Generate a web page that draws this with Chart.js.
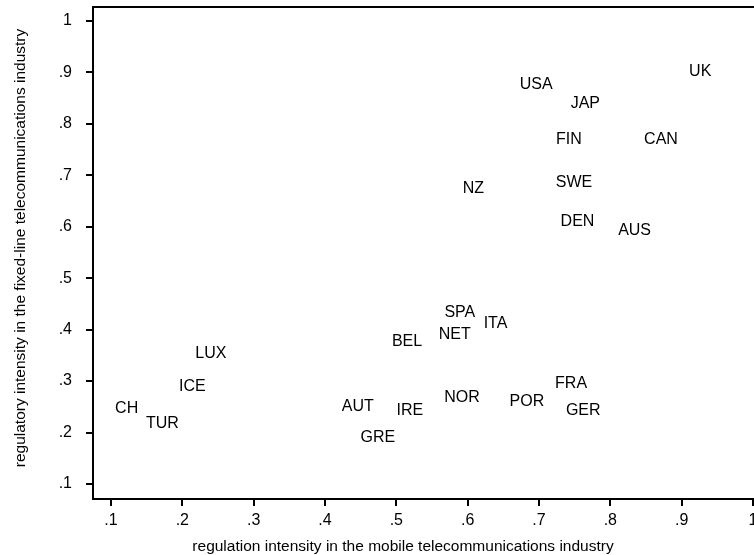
<!DOCTYPE html>
<html>
<head>
<meta charset="utf-8">
<script src="https://cdn.jsdelivr.net/npm/chart.js@4"></script>
<style>
  html, body { margin: 0; padding: 0; background: #fff; }
  #wrap { width: 754px; height: 555px; }
</style>
</head>
<body>
<div id="wrap"><canvas id="chart"></canvas></div>
<script>
// country codes and their regulation scores
const countries = ['UK', 'USA', 'JAP', 'FIN', 'CAN', 'SWE', 'NZ', 'DEN', 'AUS',
  'SPA', 'ITA', 'NET', 'BEL', 'LUX', 'ICE', 'FRA', 'NOR', 'POR', 'CH', 'AUT',
  'IRE', 'GER', 'TUR', 'GRE'];
const mobileReg = [0.926, 0.696, 0.765, 0.742, 0.871, 0.749, 0.608, 0.754, 0.834,
  0.589, 0.639, 0.582, 0.515, 0.240, 0.214, 0.745, 0.592, 0.683, 0.122, 0.446,
  0.519, 0.762, 0.172, 0.474];
const fixedReg = [0.901, 0.877, 0.840, 0.770, 0.770, 0.685, 0.675, 0.611, 0.593,
  0.434, 0.412, 0.391, 0.377, 0.354, 0.290, 0.296, 0.267, 0.261, 0.247, 0.251,
  0.243, 0.243, 0.218, 0.191];

const xTicks = [0.1, 0.2, 0.3, 0.4, 0.5, 0.6, 0.7, 0.8, 0.9, 1];
const yTicks = [0.1, 0.2, 0.3, 0.4, 0.5, 0.6, 0.7, 0.8, 0.9, 1];

const xTitle = 'regulation intensity in the mobile telecommunications industry';
const yTitle = 'regulatory intensity in the fixed-line telecommunications industry';

const FONT = "'Liberation Sans', Arial, sans-serif";

const fmt = v => (v >= 1 ? '1' : v.toFixed(1).replace(/^0/, ''));

// draws the country code at each point instead of a marker
const labelPlugin = {
  id: 'countryLabels',
  afterDatasetsDraw(chart) {
    const ctx = chart.ctx;
    const meta = chart.getDatasetMeta(0);
    ctx.save();
    ctx.font = '16px ' + FONT;
    ctx.fillStyle = '#000';
    ctx.textAlign = 'center';
    ctx.textBaseline = 'middle';
    meta.data.forEach((pt, i) => {
      ctx.fillText(countries[i], pt.x, pt.y);
    });
    ctx.restore();
  }
};

// top edge of the plot box + both axis titles (the original does not centre them on the area)
const extras = {
  id: 'extras',
  afterDraw(chart) {
    const a = chart.chartArea;
    const ctx = chart.ctx;
    ctx.save();
    ctx.strokeStyle = '#000';
    ctx.lineWidth = 2;
    ctx.beginPath();
    ctx.moveTo(a.left, a.top);
    ctx.lineTo(a.right, a.top);
    ctx.stroke();

    ctx.font = '15.5px ' + FONT;
    ctx.fillStyle = '#000';
    ctx.textAlign = 'center';
    ctx.textBaseline = 'middle';
    ctx.fillText(xTitle, 403, chart.height - 8);

    ctx.translate(21, 248);
    ctx.rotate(-Math.PI / 2);
    ctx.fillText(yTitle, 0, 0);
    ctx.restore();
  }
};

new Chart(document.getElementById('chart'), {
  type: 'scatter',
  data: {
    datasets: [{
      data: countries.map((c, i) => ({ x: mobileReg[i], y: fixedReg[i] })),
      pointRadius: 0,
      pointHoverRadius: 0
    }]
  },
  options: {
    responsive: true,
    maintainAspectRatio: false,
    animation: false,
    events: [],
    layout: { padding: { top: 7, right: 0, left: 0, bottom: 0 } },
    plugins: { legend: { display: false }, tooltip: { enabled: false } },
    scales: {
      x: {
        type: 'linear',
        min: 0.0748,
        max: 1.0014,
        afterBuildTicks: s => { s.ticks = xTicks.map(v => ({ value: v })); },
        afterFit: s => { s.height = 56; s.paddingLeft = 0; s.paddingRight = 0; },
        grid: { drawOnChartArea: false, drawTicks: true, tickLength: 7, color: '#000', lineWidth: 2 },
        border: { display: true, color: '#000', width: 2 },
        ticks: {
          padding: 5,
          maxRotation: 0,
          autoSkip: false,
          color: '#000',
          font: { family: FONT, size: 16 },
          callback: v => fmt(v)
        }
      },
      y: {
        type: 'linear',
        min: 0.0708,
        max: 1.0272,
        afterBuildTicks: s => { s.ticks = yTicks.map(v => ({ value: v })); },
        afterFit: s => { s.width = 93; s.paddingTop = 0; s.paddingBottom = 0; },
        grid: { drawOnChartArea: false, drawTicks: true, tickLength: 7, color: '#000', lineWidth: 2 },
        border: { display: true, color: '#000', width: 2 },
        ticks: {
          padding: 14,
          autoSkip: false,
          color: '#000',
          font: { family: FONT, size: 16 },
          callback: v => fmt(v)
        }
      }
    }
  },
  plugins: [labelPlugin, extras]
});
</script>
</body>
</html>
